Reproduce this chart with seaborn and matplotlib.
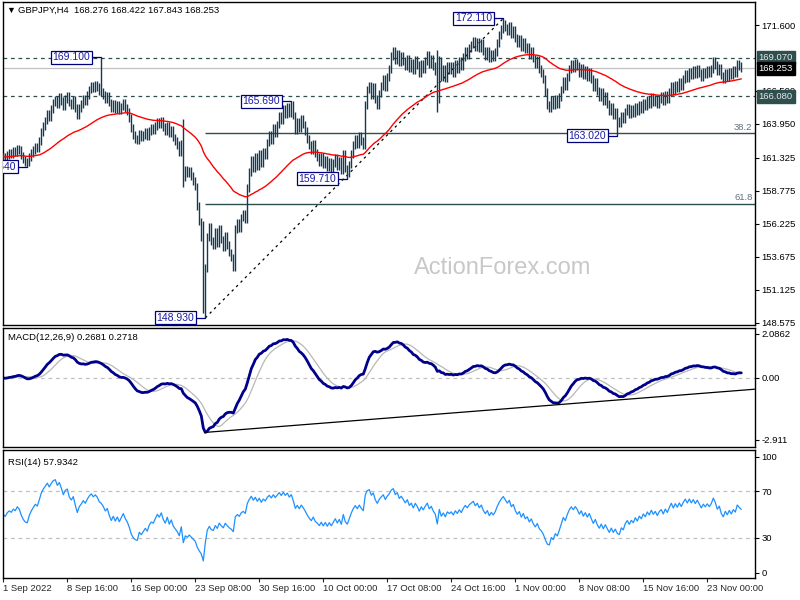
import numpy as np
import pandas as pd
import matplotlib.pyplot as plt
import matplotlib.transforms as mtransforms
import seaborn as sns

# GBPJPY H4 closes, one per bar, 1 Sep 2022 08:00 -> 25 Nov 2022 20:00
closes = [
    161.40, 161.25, 161.55, 161.70, 161.60, 161.85, 161.75, 162.05, 161.90, 161.50, 161.20, 161.00,  # 0-11
    160.95, 161.40, 161.70, 161.95, 162.20, 162.10,                                                  # 12-17
    162.60, 163.30, 163.80, 164.20, 164.70, 164.50, 165.10, 165.60,                                  # 18-25
    165.80, 165.50, 166.00, 165.70, 165.30, 165.90, 166.10, 165.60, 165.40, 165.80, 165.20, 164.60,  # 26-37
    165.20, 165.50, 165.90, 165.70, 166.20,                                                          # 38-42
    166.60, 166.90, 166.70, 166.95, 166.80, 166.50, 166.40,                                          # 43-49
    166.20, 165.90, 166.10, 165.60,                                                                  # 50-53
    165.20, 165.50, 165.10, 165.40, 165.00, 165.30, 165.60, 165.20, 164.90,                          # 54-62
    164.40, 163.60, 163.10, 162.80, 162.70,                                                          # 63-67
    163.20, 162.90, 163.10, 163.30, 163.00, 163.40, 163.60, 163.50,                                  # 68-75
    163.80, 164.10, 163.90, 164.20, 163.70,                                                          # 76-80
    163.40, 163.80, 163.20, 163.50, 162.90, 162.60, 162.30, 161.80, 162.40,                          # 81-89
    159.80, 160.40, 160.10, 160.30, 159.90, 159.50, 159.10,                                          # 90-96
    157.60, 156.40, 155.20, 150.20, 152.80,                                                          # 97-101
    155.20, 156.00, 154.90,                                                                          # 102-104
    154.60, 155.60, 154.70, 155.80, 155.00, 154.40, 155.30, 154.60,                                  # 105-112
    154.00, 153.60, 152.90, 155.80,                                                                  # 113-116
    156.30, 155.90, 156.70, 157.00, 156.60, 159.00,                                                  # 117-122
    160.20, 161.20, 160.50, 161.40, 160.70, 161.60, 160.90, 161.80, 161.50,                          # 123-131
    162.50, 163.10, 162.70, 163.60, 163.20, 163.90,                                                  # 132-137
    164.60, 164.20, 165.10, 164.70, 165.30, 164.80, 165.40,                                          # 138-144
    164.60, 163.50, 164.10, 163.60, 164.30, 163.90, 163.40,                                          # 145-151
    162.80, 162.30, 161.90, 162.40, 161.70, 161.40,                                                  # 152-157
    161.00, 161.40, 160.80, 161.20, 160.60, 161.00, 160.50, 160.90, 161.30, 160.70, 161.10, 160.40,  # 158-169
    161.60, 160.50, 160.10, 160.80,                                                                  # 170-173
    161.60, 162.30, 162.80, 162.40, 163.00, 162.60, 162.30,                                          # 174-180
    165.40, 166.60,                                                                                  # 181-182
    166.90, 166.20, 166.80, 165.90, 165.40, 166.30,                                                  # 183-188
    166.90, 167.40, 166.80, 167.60, 168.20,                                                          # 189-193
    169.20, 169.60, 168.90, 169.40, 168.70, 169.20, 168.80,                                          # 194-200
    168.40, 169.00, 168.30, 168.70, 168.10, 168.90, 168.50, 167.90, 168.60, 168.20,                  # 201-210
    168.80, 169.30, 168.60, 169.00, 168.40, 168.00,                                                  # 211-216
    166.50, 168.80, 167.60, 168.20, 167.50, 168.40, 168.10,                                          # 217-223
    168.40, 167.90, 168.60, 168.20, 168.80, 168.40,                                                  # 224-229
    169.10, 169.60, 169.30, 169.80,                                                                  # 230-233
    170.10, 170.40, 169.90, 170.30, 169.80, 170.20, 169.60,                                          # 234-240
    169.20, 169.60, 169.00, 169.40, 169.10, 169.50,                                                  # 241-246
    170.20, 170.80, 171.30, 171.70,                                                                  # 247-250
    171.40, 171.10, 171.50, 170.90, 171.20,                                                          # 251-255
    170.60, 170.20, 170.50, 169.90, 170.30, 169.70, 169.90,                                          # 256-262
    169.30, 169.60, 169.00, 168.60, 168.90, 168.20, 167.90, 167.40,                                  # 263-270
    166.40, 165.40,                                                                                  # 271-272
    165.20, 165.80, 165.40, 165.90, 165.50, 166.00,                                                  # 273-278
    166.60, 167.30, 166.90, 167.60,                                                                  # 279-282
    168.20, 168.60, 168.30, 168.70, 168.40,                                                          # 283-287
    167.90, 168.30, 167.70, 168.10, 167.60, 168.00, 167.40,                                          # 288-294
    166.80, 167.20, 166.50,                                                                          # 295-297
    166.00, 166.40, 165.70, 166.10, 165.50,                                                          # 298-302
    164.90, 165.30, 164.60, 164.90, 164.20,                                                          # 303-307
    164.00, 164.60, 164.30, 164.90, 165.20,                                                          # 308-312
    164.70, 165.10, 164.80, 165.30, 164.90, 165.40, 165.10,                                          # 313-319
    165.60, 165.30, 165.80, 165.50, 166.00, 165.60, 165.90,                                          # 320-326
    165.50, 165.90, 166.10, 165.70, 166.20, 165.90,                                                  # 327-332
    166.40, 166.90, 166.50, 167.00, 166.70, 167.20, 166.90,                                          # 333-339
    167.40, 167.80, 167.50, 168.00, 167.70,                                                          # 340-344
    168.10, 167.80, 168.20, 167.90, 167.60, 168.00, 167.80, 168.10, 167.90, 168.20,                  # 345-354
    168.80, 168.50,                                                                                  # 355-356
    168.00, 168.30, 167.70, 167.40, 167.90,                                                          # 357-361
    167.60, 168.00, 167.70, 168.10, 167.90,                                                          # 362-366
    168.60, 168.40, 168.253,                                                                         # 367-369
]

# bars with long wicks (bar index, low, high)
wide_bars = [90, 100, 217, 218]
wide_lows = [159.10, 149.30, 164.90, 165.60]
wide_highs = [164.30, 156.40, 169.70, 169.20]

# labelled swing points (bar index, price, is high)
swing_bars = [12, 49, 101, 144, 172, 250, 307]
swing_prices = [160.640, 169.100, 148.930, 165.690, 159.710, 172.110, 163.020]
swing_high = [False, True, False, True, False, True, False]

# horizontal levels
dashed_levels = [169.070, 166.080]
fib_ratios = [38.2, 61.8]

# axis ticks / labels
price_ticks = [148.575, 151.125, 153.675, 156.225, 158.775, 161.325, 163.950, 166.500, 171.600]
date_labels = ["1 Sep 2022", "8 Sep 16:00", "16 Sep 00:00", "23 Sep 08:00", "30 Sep 16:00",
               "10 Oct 00:00", "17 Oct 08:00", "24 Oct 16:00", "1 Nov 00:00", "8 Nov 08:00",
               "15 Nov 16:00", "23 Nov 00:00"]
macd_ticks = [2.0862, 0.0, -2.911]
macd_tick_labels = ["2.0862", "0.00", "-2.911"]
rsi_ticks = [100, 70, 30, 0]

# ---- build bars & indicators
df = pd.DataFrame({"bar": np.arange(len(closes)), "close": closes})
df["open"] = df["close"].shift(1).fillna(df["close"].iloc[0])
wick = 0.3
df["high"] = df[["open", "close"]].max(axis=1) + wick
df["low"] = df[["open", "close"]].min(axis=1) - wick
for b, lo_, hi_ in zip(wide_bars, wide_lows, wide_highs):
    df.loc[b, "low"] = min(df.loc[b, "low"], lo_)
    df.loc[b, "high"] = max(df.loc[b, "high"], hi_)
for b, p, hi in zip(swing_bars, swing_prices, swing_high):
    df.loc[b, "high" if hi else "low"] = p

df["ema55"] = df["close"].ewm(span=55, adjust=False).mean()
df["macd"] = df["close"].ewm(span=12, adjust=False).mean() - df["close"].ewm(span=26, adjust=False).mean()
df["signal"] = df["macd"].rolling(9, min_periods=1).mean()

# Wilder RSI(14), averages seeded so the line starts near the middle
avg_up, avg_dn = 0.2, 0.2
rsi = []
for d in df["close"].diff().fillna(0):
    avg_up = (avg_up * 13 + max(d, 0)) / 14
    avg_dn = (avg_dn * 13 + max(-d, 0)) / 14
    rsi.append(100 * avg_up / (avg_up + avg_dn))
df["rsi"] = rsi

# ---- figure
sns.set_style("white")
plt.rcParams["font.family"] = ["Liberation Sans", "DejaVu Sans"]
fs = 6.8
bar_color = "#123a55"
navy = "#00007f"
slate = "#2f4f4f"

fig = plt.figure(figsize=(8, 6), dpi=100)
L, W = 2.5 / 800, 752 / 800
ax1 = fig.add_axes([L, 1 - 325 / 600, W, 323 / 600])
ax2 = fig.add_axes([L, 1 - 447 / 600, W, 119 / 600])
ax3 = fig.add_axes([L, 1 - 578 / 600, W, 128 / 600])
xmin, xmax = -0.4, 375.6
for ax in (ax1, ax2, ax3):
    ax.set_xlim(xmin, xmax)
    for s in ax.spines.values():
        s.set_color("black")
        s.set_linewidth(1)
    ax.yaxis.tick_right()
    ax.tick_params(axis="y", length=3, width=0.8, pad=2, labelsize=fs, colors="black")

# main price panel
ax1.set_ylim(148.382, 173.381)
ax1.text(0.665, 0.175, "ActionForex.com", transform=ax1.transAxes, ha="center", va="center",
         fontsize=17, color="#c8c8c8", zorder=0)
last = closes[-1]
ax1.axhline(last, color="#c0c0c0", lw=0.9, zorder=1)
for lv in dashed_levels:
    ax1.axhline(lv, color=slate, lw=0.9, ls=(0, (3, 3)), zorder=1)

lo_bar, lo = swing_bars[2], swing_prices[2]
hi_bar, hi = swing_bars[5], swing_prices[5]
for r in fib_ratios:
    lv = hi - r / 100 * (hi - lo)
    ax1.hlines(lv, lo_bar, xmax, color=slate, lw=1, zorder=1)
    ax1.text(xmax - 1, lv + 0.08, f"{r:.1f}", ha="right", va="bottom", fontsize=fs, color="#607080")
ax1.plot([lo_bar, hi_bar], [lo, hi], color="black", lw=0.9, ls=(0, (2, 3)), zorder=2)

ax1.vlines(df["bar"], df["low"], df["high"], color=bar_color, lw=1.0, zorder=3)
sns.lineplot(data=df, x="bar", y="ema55", ax=ax1, color="red", lw=1, zorder=4)

for b, p in zip(swing_bars, swing_prices):
    ax1.plot([b - 5, b], [p, p], color=navy, lw=0.9, zorder=5)
    ax1.text(b - 5.6, p, f"{p:.3f}", ha="right", va="center", fontsize=7.5, color="#1a1aa0", zorder=6,
             clip_on=True, bbox=dict(boxstyle="square,pad=0.15", fc="white", ec=navy, lw=0.9))

ax1.set_yticks(price_ticks)
ax1.set_yticklabels([f"{t:.3f}" for t in price_ticks])
ax1.set_xticks([])
ax1.set_xlabel("")
ax1.set_ylabel("")
tr = mtransforms.blended_transform_factory(ax1.transAxes, ax1.transData)
for lv, fc, tc in [(dashed_levels[0], slate, "#e8e8e8"), (last, "black", "white"), (dashed_levels[1], slate, "#e8e8e8")]:
    ax1.text(1.0 + 4 / 752, lv, f"{lv:.3f}", transform=tr, ha="left", va="center", fontsize=fs, color=tc,
             clip_on=False, zorder=10, bbox=dict(boxstyle="square,pad=0.2", fc=fc, ec=fc))
ax1.text(4 / 752, 0.975, "\u25bc", transform=ax1.transAxes, ha="left", va="center", fontsize=6.5, color="black")
ax1.text(15.5 / 752, 0.975, "GBPJPY,H4  168.276 168.422 167.843 168.253", transform=ax1.transAxes,
         ha="left", va="center", fontsize=fs, color="black")

# MACD panel
ax2.set_ylim(-3.255, 2.358)
ax2.axhline(0, color="#c0c0c0", lw=0.9, ls=(0, (3, 3)))
sns.lineplot(data=df, x="bar", y="signal", ax=ax2, color="#b8b8b8", lw=0.9)
sns.lineplot(data=df, x="bar", y="macd", ax=ax2, color="#00008b", lw=2)
m0 = int(df["macd"].idxmin())
ax2.plot([m0, xmax], [df["macd"].min(), -0.53], color="black", lw=0.9)
ax2.set_yticks(macd_ticks)
ax2.set_yticklabels(macd_tick_labels)
ax2.set_xticks([])
ax2.set_xlabel("")
ax2.set_ylabel("")
ax2.text(5.5 / 752, 0.924, "MACD(12,26,9) 0.2681 0.2718", transform=ax2.transAxes, ha="left", va="center",
         fontsize=fs, color="black")

# RSI panel
ax3.set_ylim(-4.56, 105.6)
for lv in (70, 30):
    ax3.axhline(lv, color="#c0c0c0", lw=0.9, ls=(0, (3, 3)))
sns.lineplot(data=df, x="bar", y="rsi", ax=ax3, color="#1e90ff", lw=0.9)
ax3.set_yticks(rsi_ticks)
ax3.set_yticklabels([str(t) for t in rsi_ticks])
ax3.set_xticks(np.arange(len(date_labels)) * 32)
ax3.set_xticklabels(date_labels)
ax3.tick_params(axis="x", length=3, width=0.8, pad=1.5, labelsize=fs, bottom=True)
for lab in ax3.get_xticklabels():
    lab.set_ha("left")
ax3.set_xlabel("")
ax3.set_ylabel("")
ax3.text(5.5 / 752, 0.906, "RSI(14) 57.9342", transform=ax3.transAxes, ha="left", va="center",
         fontsize=fs, color="black")

fig.savefig("out.png", dpi=100)
